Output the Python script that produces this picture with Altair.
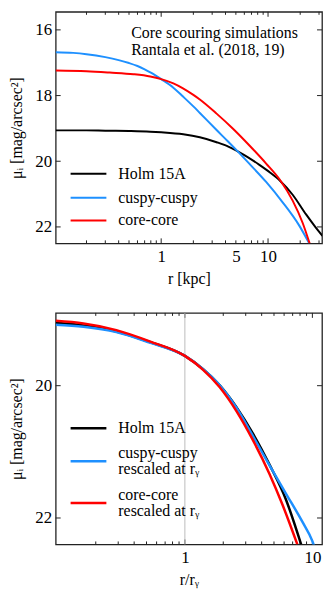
import altair as alt
import pandas as pd

# ---------------- data ----------------
# Top panel: surface brightness vs radius [kpc]
top_r_holm = [0.103, 0.2, 0.3, 0.5, 0.79, 1.0, 1.61, 2.3, 3.3, 4.3, 5.2, 6.5, 8.3, 10.5, 13.0, 17.0, 22.7, 28.0, 32.3]
top_mu_holm = [19.06, 19.06, 19.07, 19.08, 19.1, 19.12, 19.18, 19.27, 19.42, 19.56, 19.7, 19.88, 20.11, 20.35, 20.6, 21.02, 21.62, 22.02, 22.27]

top_r_cuspy = [0.103, 0.15, 0.2, 0.3, 0.4, 0.5, 0.6, 0.7, 0.8, 1.0, 1.3, 1.6, 2.0, 2.3, 3.3, 4.2, 5.2, 6.7, 9.6, 13.7, 19.6, 24.3]
top_mu_cuspy = [16.68, 16.70, 16.74, 16.83, 16.92, 17.01, 17.10, 17.20, 17.30, 17.50, 17.76, 18.03, 18.33, 18.53, 19.05, 19.39, 19.70, 20.08, 20.63, 21.25, 21.96, 22.5]

top_r_core = [0.103, 0.2, 0.33, 0.55, 0.79, 1.0, 1.3, 1.6, 2.0, 2.3, 3.3, 4.7, 6.7, 9.6, 13.0, 17.0, 21.1, 24.5]
top_mu_core = [17.24, 17.26, 17.3, 17.35, 17.42, 17.5, 17.63, 17.78, 17.98, 18.12, 18.55, 19.01, 19.52, 20.07, 20.58, 21.2, 21.88, 22.5]

# Bottom panel: radius in units of r_gamma
bot_r_holm = [0.097, 0.16, 0.29, 0.53, 1.0, 1.39, 1.87, 2.53, 3.41, 4.6, 6.2, 8.16]
bot_mu_holm = [19.05, 19.09, 19.18, 19.34, 19.55, 19.75, 19.99, 20.32, 20.72, 21.19, 21.72, 22.4]

bot_r_cuspy = [0.097, 0.16, 0.29, 0.53, 1.0, 1.39, 1.87, 2.53, 3.41, 4.6, 6.2, 8.36, 10.0, 10.3]
bot_mu_cuspy = [19.08, 19.11, 19.19, 19.35, 19.55, 19.75, 19.99, 20.33, 20.76, 21.2, 21.63, 22.06, 22.35, 22.42]

bot_r_core = [0.097, 0.16, 0.29, 0.53, 1.0, 1.39, 1.87, 2.53, 3.41, 4.6, 5.83, 7.62]
bot_mu_core = [19.02, 19.06, 19.16, 19.33, 19.55, 19.76, 20.02, 20.38, 20.82, 21.33, 21.8, 22.4]

top_legend = ["Holm 15A", "cuspy-cuspy", "core-core"]
bot_legend = [["Holm 15A"], ["cuspy-cuspy", "rescaled at rᵧ"], ["core-core", "rescaled at rᵧ"]]
annotation = ["Core scouring simulations", "Rantala et al. (2018, 19)"]

top_x_labels = [1, 5, 10]
top_x_major = [1, 10]
top_x_minor = [0.2, 0.3, 0.4, 0.5, 0.6, 0.7, 0.8, 0.9, 2, 3, 4, 5, 6, 7, 8, 9, 20, 30]
top_y_ticks = [16, 18, 20, 22]

bot_x_labels = [1, 10]
bot_x_major = [1, 10]
bot_x_minor = [0.2, 0.3, 0.4, 0.5, 0.6, 0.7, 0.8, 0.9, 2, 3, 4, 5, 6, 7, 8, 9]
bot_y_ticks = [20, 22]

# ---------------- styling ----------------
FONT = "Liberation Serif"
W, H = 268, 233
COLORS = ["#000000", "#1E90FF", "#FF0000"]
FRAME = "#222222"
MAJ, MIN = 5, 3


def one_row():
    return pd.DataFrame({"k": [0]})


def panel(curves, xdom, ydom, xlabels, xmajor, xminor, yticks, xtitle, sw, extra_layers):
    xscale = alt.Scale(type="log", domain=xdom, nice=False)
    yscale = alt.Scale(domain=ydom, reverse=True, nice=False, zero=False)
    X = alt.X("r:Q", scale=xscale,
              axis=alt.Axis(values=xlabels, format="~g", title=xtitle, labelPadding=5,
                            titlePadding=6, labelFlush=False))
    Y = alt.Y("mu:Q", scale=yscale,
              axis=alt.Axis(values=yticks, title="μᵢ [mag/arcsec²]", labelPadding=4,
                            titlePadding=10))
    layers = []
    # inward ticks on all four sides
    ydf = pd.DataFrame({"mu": yticks})
    for x0, x1 in [(0, MAJ), (W - MAJ, W)]:
        layers.append(alt.Chart(ydf).mark_rule(color=FRAME, strokeWidth=1).encode(
            y=Y, x=alt.value(x0), x2=alt.value(x1)))
    for vals, L in [(xmajor, MAJ), (xminor, MIN)]:
        xdf = pd.DataFrame({"r": vals})
        for y0, y1 in [(H, H - L), (0, L)]:
            layers.append(alt.Chart(xdf).mark_rule(color=FRAME, strokeWidth=1).encode(
                x=X, y=alt.value(y0), y2=alt.value(y1)))
    layers += extra_layers(X, Y)
    for (r, mu), c in zip(curves, COLORS):
        df = pd.DataFrame({"r": r, "mu": mu})
        layers.append(alt.Chart(df).mark_line(color=c, strokeWidth=sw, clip=True,
                                              interpolate="monotone").encode(x=X, y=Y))
    return layers


def text_at(txt, x, y, size=16):
    return alt.Chart(one_row()).mark_text(align="left", baseline="middle", font=FONT,
                                          fontSize=size, color="black").encode(
        x=alt.value(x), y=alt.value(y), text=alt.value(txt))


def legend_line(color, y, sw):
    return alt.Chart(one_row()).mark_rule(color=color, strokeWidth=sw).encode(
        x=alt.value(15), x2=alt.value(51), y=alt.value(y))


# ---------------- top panel ----------------
def top_extra(X, Y):
    return []

top_layers = panel(
    [(top_r_holm, top_mu_holm), (top_r_cuspy, top_mu_cuspy), (top_r_core, top_mu_core)],
    [0.103, 32.0], [15.45, 22.5], top_x_labels, top_x_major, top_x_minor, top_y_ticks,
    "r [kpc]", 2, top_extra)
for lab, c, y in zip(top_legend, COLORS, [163, 187, 210]):
    top_layers.append(legend_line(c, y, 2))
    top_layers.append(text_at(lab, 63, y))
for line, y in zip(annotation, [21, 38.5]):
    top_layers.append(text_at(line, 76, y))
top = alt.layer(*top_layers).properties(width=W, height=H)


# ---------------- bottom panel ----------------
def bot_extra(X, Y):
    ref = pd.DataFrame({"r": [1]})
    return [alt.Chart(ref).mark_rule(color="#BBBBBB", strokeWidth=1).encode(x=X)]

bot_layers = panel(
    [(bot_r_holm, bot_mu_holm), (bot_r_cuspy, bot_mu_cuspy), (bot_r_core, bot_mu_core)],
    [0.097, 11.9], [18.9, 22.4], bot_x_labels, bot_x_major, bot_x_minor, bot_y_ticks,
    "r/rᵧ", 2.5, bot_extra)
for lines, c, y in zip(bot_legend, COLORS, [116, 149.3, 191.3]):
    bot_layers.append(legend_line(c, y, 2.5))
    if len(lines) == 1:
        bot_layers.append(text_at(lines[0], 63, y))
    else:
        bot_layers.append(text_at(lines[0], 63, y - 8))
        bot_layers.append(text_at(lines[1], 63, y + 8))
bottom = alt.layer(*bot_layers).properties(width=W, height=H)

chart = alt.vconcat(top, bottom, spacing=24).properties(
    padding=0, background="white"
).configure_view(
    stroke=FRAME, strokeWidth=1.3
).configure_axis(
    ticks=False, domain=False, grid=False,
    labelFont=FONT, labelFontSize=17, labelColor="black",
    titleFont=FONT, titleFontSize=16, titleFontWeight="normal", titleColor="black",
)

chart.save("out.html", embed_options={"renderer": "svg", "actions": False})
